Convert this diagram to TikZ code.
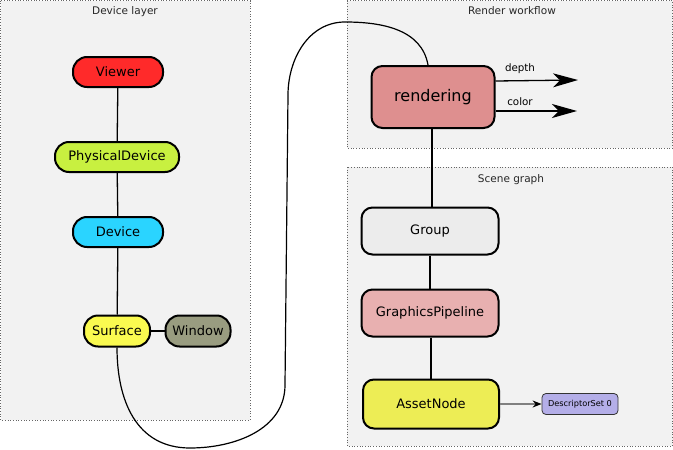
\documentclass[tikz,border=0pt]{standalone}
\usepackage{fontspec}
\setmainfont{DejaVu Sans}
\usetikzlibrary{arrows.meta}
\definecolor{bgbox}{HTML}{F2F2F2}
\definecolor{cViewer}{HTML}{FF2A2A}
\definecolor{cPhys}{HTML}{C8F040}
\definecolor{cDev}{HTML}{2AD4FF}
\definecolor{cSurf}{HTML}{FAFA50}
\definecolor{cWin}{HTML}{999C80}
\definecolor{cRend}{HTML}{DE8F8F}
\definecolor{cGroup}{HTML}{ECECEC}
\definecolor{cPipe}{HTML}{E8B0B0}
\definecolor{cAsset}{HTML}{EDED55}
\definecolor{cDesc}{HTML}{B4AEE8}
\tikzset{
  x=1pt,y=-1pt,
  layerbox/.style={draw=black!60,dotted,fill=bgbox,line width=0.7pt},
  layertitle/.style={font=\fontsize{10.5}{12}\selectfont,text=black!85},
  pill/.style={draw=black,line width=2pt,rounded corners=14pt,minimum height=30pt,inner sep=0pt,font=\fontsize{13}{15}\selectfont},
  bigbox/.style={draw=black,line width=2pt,rounded corners=11pt,inner sep=0pt,font=\fontsize{13}{15}\selectfont},
  link/.style={draw=black,line width=1.3pt},
  lbl/.style={font=\fontsize{10.3}{12}\selectfont},
}
\begin{document}
\begin{tikzpicture}
\useasboundingbox (0,0) rectangle (673,450);
% layer boxes
\path[layerbox] (0.5,0.5) rectangle (250,420);
\node[layertitle] (tdev) at (125,12) {Device layer};
\path[layerbox] (347,0.5) rectangle (672.5,148);
\node[layertitle] (trend) at (512,11) {Render workflow};
\path[layerbox] (347,167) rectangle (672.5,446);
\node[layertitle] (tscene) at (511,180) {Scene graph};
% device layer nodes
\node[pill,fill=cViewer,minimum width=90pt] (viewer) at (118,72) {Viewer};
\node[pill,fill=cPhys,minimum width=124pt] (phys) at (117,157) {PhysicalDevice};
\node[pill,fill=cDev,minimum width=90pt] (device) at (118,232) {Device};
\node[pill,fill=cSurf,minimum width=66pt,minimum height=31pt] (surface) at (117,331) {Surface};
\node[pill,fill=cWin,minimum width=65pt,minimum height=31pt] (window) at (198,331) {Window};
\draw[link] (viewer) -- (phys);
\draw[link] (phys) -- (device);
\draw[link] (device) -- (surface);
\draw[link] (surface) -- (window);
% render workflow
\node[bigbox,fill=cRend,minimum width=123pt,minimum height=62pt,font=\fontsize{16}{18}\selectfont] (rendering) at (433,97) {rendering};
\coordinate (depthend) at (578,80);
\coordinate (colorend) at (577,111);
\draw[link,-{Stealth[length=25pt,width=14pt,inset=7pt]}] (rendering.east |- 0,81) -- (depthend);
\draw[link,-{Stealth[length=25pt,width=14pt,inset=7pt]}] (rendering.east |- 0,111) -- (colorend);
\node[lbl] (ldepth) at (520,69) {depth};
\node[lbl] (lcolor) at (520,102) {color};
% scene graph
\node[bigbox,fill=cGroup,minimum width=137pt,minimum height=47pt] (group) at (430,231) {Group};
\node[bigbox,fill=cPipe,minimum width=137pt,minimum height=47pt] (pipe) at (430,313) {GraphicsPipeline};
\node[bigbox,fill=cAsset,minimum width=136pt,minimum height=49pt] (asset) at (431,404) {AssetNode};
\node[draw=black!80,line width=0.8pt,fill=cDesc,rounded corners=4pt,minimum width=76pt,minimum height=21pt,inner sep=0pt,font=\fontsize{8.2}{10}\selectfont] (desc) at (580,404) {DescriptorSet 0};
\draw[link] (rendering.south -| 432,0) -- (group.north -| 432,0);
\draw[link] (group) -- (pipe);
\draw[link] (pipe.south -| 431,0) -- (asset.north -| 431,0);
\draw[draw=black!50,line width=1.5pt,-{Stealth[length=9pt,width=7pt,inset=3pt,fill=black,color=black]}] (asset) -- (desc);
% long curve
\draw[link,line width=1.2pt] (surface.south) to[out=-90,in=180,looseness=1.1] (190,448)
  to[out=0,in=-90] (285,385) -- (288,95)
  to[out=90,in=180] (345,22) to[out=0,in=100] ([xshift=-5pt]rendering.north);
\end{tikzpicture}
\end{document}
